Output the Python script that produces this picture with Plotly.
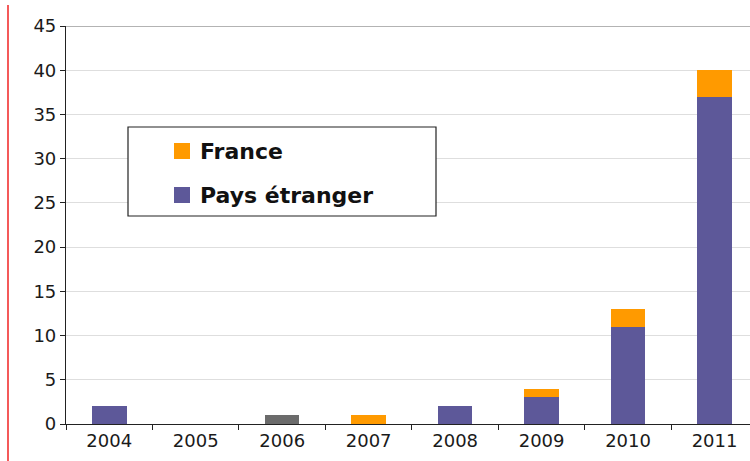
import plotly.graph_objects as go

years = ["2004", "2005", "2006", "2007", "2008", "2009", "2010", "2011"]
pays_etranger = [2, 0, 1, 0, 2, 3, 11, 37]
france = [0, 0, 0, 1, 0, 1, 2, 3]
y_ticks = [0, 5, 10, 15, 20, 25, 30, 35, 40, 45]

PURPLE = "#5D5899"
ORANGE = "#FF9A00"
GRAY = "#6B6B6B"
etr_colors = [GRAY if y == "2006" else PURPLE for y in years]

W, H = 750, 461
L, R, T, B = 66, 0, 26, 37
PW, PH = W - L - R, H - T - B

def px(x):
    return (x - L) / PW

def py(y):
    return (H - B - y) / PH

fig = go.Figure()
fig.add_trace(go.Bar(x=years, y=pays_etranger, name="Pays étranger",
                     marker=dict(color=etr_colors, line=dict(width=0)), width=0.4))
fig.add_trace(go.Bar(x=years, y=france, name="France",
                     marker=dict(color=ORANGE, line=dict(width=0)), width=0.4))

font_fam = "DejaVu Sans, Arial, sans-serif"
fig.update_layout(
    width=W, height=H,
    margin=dict(l=L, r=R, t=T, b=B, pad=0),
    barmode="stack",
    showlegend=False,
    plot_bgcolor="white", paper_bgcolor="white",
    xaxis=dict(type="category", range=[-0.5, 7.41], showline=True, linecolor="#222",
               linewidth=1.2, ticks="outside", tickson="boundaries", ticklen=5,
               tickcolor="#222", tickfont=dict(family=font_fam, size=18, color="#1a1a1a"),
               showgrid=False, fixedrange=True),
    yaxis=dict(range=[0, 45], tickvals=y_ticks, showline=True, linecolor="#222",
               linewidth=1.2, ticks="outside", ticklen=5, tickcolor="#222",
               tickfont=dict(family=font_fam, size=18, color="#1a1a1a"),
               showgrid=True, gridcolor="#dedede", gridwidth=1, zeroline=False,
               fixedrange=True),
)

shapes = []
# top border line at 45
shapes.append(dict(type="line", xref="paper", yref="y", x0=0, x1=1, y0=45, y1=45,
                   line=dict(color="#9a9a9a", width=1.5)))
# red vertical line at left edge
shapes.append(dict(type="line", xref="paper", yref="paper", x0=px(8), x1=px(8),
                   y0=py(5), y1=py(461), line=dict(color="#EE0000", width=1.3)))
# legend box
shapes.append(dict(type="rect", xref="paper", yref="paper", x0=px(128), x1=px(436),
                   y0=py(216), y1=py(127), line=dict(color="#222", width=1.2),
                   fillcolor="white", layer="above"))
# legend swatches
shapes.append(dict(type="rect", xref="paper", yref="paper", x0=px(174), x1=px(190),
                   y0=py(159), y1=py(143), line=dict(width=0), fillcolor=ORANGE, layer="above"))
shapes.append(dict(type="rect", xref="paper", yref="paper", x0=px(174), x1=px(190),
                   y0=py(203), y1=py(187), line=dict(width=0), fillcolor=PURPLE, layer="above"))
fig.update_layout(shapes=shapes)

fig.add_annotation(xref="paper", yref="paper", x=px(198), y=py(151), text="<b>France</b>",
                   showarrow=False, xanchor="left", yanchor="middle",
                   font=dict(family=font_fam, size=22, color="#111"))
fig.add_annotation(xref="paper", yref="paper", x=px(198), y=py(195), text="<b>Pays étranger</b>",
                   showarrow=False, xanchor="left", yanchor="middle",
                   font=dict(family=font_fam, size=22, color="#111"))

fig.write_html("out.html")
